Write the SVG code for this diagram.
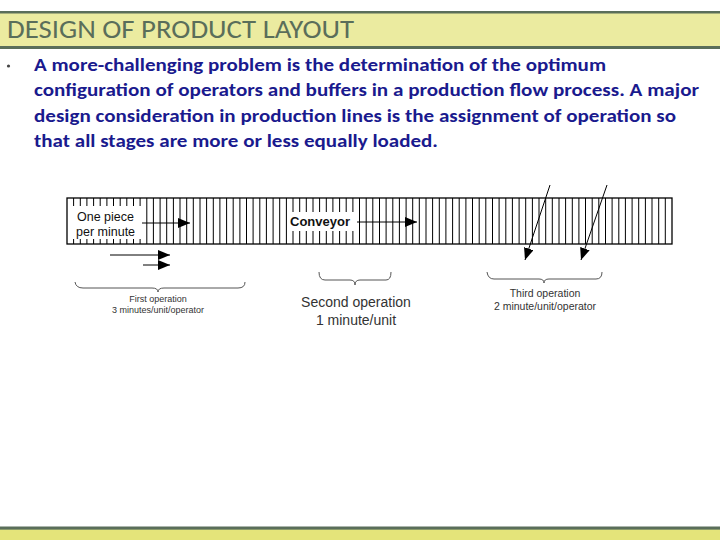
<svg xmlns="http://www.w3.org/2000/svg" width="720" height="540" viewBox="0 0 720 540">
<style>
.title{font-family:Carlito,Lato,"Liberation Sans",sans-serif;font-size:27px;fill:#5a6e5a}
.body{font-family:Carlito,Lato,"Open Sans",sans-serif;font-size:18px;font-weight:bold;fill:#1a1a8e}
.lbl{font-family:"Liberation Sans",Arial,sans-serif;fill:#111}
.cap{font-family:"Liberation Sans",Arial,sans-serif;fill:#333;text-anchor:middle}
.ln{stroke:#000;stroke-width:1;fill:none}
.brace{stroke:#555;stroke-width:1;fill:none}
</style>
<defs>
<marker id="ah" viewBox="0 0 12 10" refX="12" refY="5" markerWidth="12" markerHeight="10" markerUnits="userSpaceOnUse" orient="auto">
<path d="M0 0L12 5L0 10z" fill="#000"/>
</marker>
</defs>
<rect width="720" height="540" fill="#fff"/>
<g id="title-bar">
<rect x="0" y="11" width="720" height="38" fill="#5a6e5a"/>
<rect x="0" y="13.5" width="720" height="32.5" fill="#ebeba0"/>
<text class="title" x="7" y="38" textLength="347" lengthAdjust="spacingAndGlyphs">DESIGN OF PRODUCT LAYOUT</text>
</g>
<g id="body-text">
<circle cx="8.5" cy="66" r="1.6" fill="#444"/>
<text class="body" x="34" y="71" textLength="572" lengthAdjust="spacingAndGlyphs">A more-challenging problem is the determination of the optimum</text>
<text class="body" x="34" y="96" textLength="665" lengthAdjust="spacingAndGlyphs">configuration of operators and buffers in a production flow process. A major</text>
<text class="body" x="34" y="121.5" textLength="642" lengthAdjust="spacingAndGlyphs">design consideration in production lines is the assignment of operation so</text>
<text class="body" x="34" y="147" textLength="404" lengthAdjust="spacingAndGlyphs">that all stages are more or less equally loaded.</text>
</g>
<g id="conveyor">
<path class="ln" d="M73.6 198V244M80.3 198V244M86.9 198V244M93.6 198V244M100.2 198V244M106.9 198V244M113.5 198V244M120.2 198V244M126.8 198V244M133.5 198V244M140.1 198V244M146.8 198V244M153.4 198V244M160.1 198V244M166.7 198V244M173.4 198V244M180 198V244M186.7 198V244M193.3 198V244M200 198V244M206.6 198V244M213.3 198V244M219.9 198V244M226.6 198V244M233.2 198V244M239.9 198V244M246.5 198V244M253.1 198V244M259.8 198V244M266.4 198V244M273.1 198V244M279.7 198V244M286.4 198V244M293 198V244M299.7 198V244M306.3 198V244M313 198V244M319.6 198V244M326.3 198V244M332.9 198V244M339.6 198V244M346.2 198V244M352.9 198V244M359.5 198V244M366.2 198V244M372.8 198V244M379.5 198V244M386.1 198V244M392.8 198V244M399.4 198V244M406.1 198V244M412.7 198V244M419.3 198V244M426 198V244M432.6 198V244M439.3 198V244M445.9 198V244M452.6 198V244M459.2 198V244M465.9 198V244M472.5 198V244M479.2 198V244M485.8 198V244M492.5 198V244M499.1 198V244M505.8 198V244M512.4 198V244M519.1 198V244M525.7 198V244M532.4 198V244M539 198V244M545.7 198V244M552.3 198V244M559 198V244M565.6 198V244M572.3 198V244M578.9 198V244M585.5 198V244M592.2 198V244M598.8 198V244M605.5 198V244M612.1 198V244M618.8 198V244M625.4 198V244M632.1 198V244M638.7 198V244M645.4 198V244M652 198V244M658.7 198V244M665.3 198V244"/>
<rect x="68" y="206" width="74" height="33" fill="#fff"/>
<rect x="288" y="212" width="69" height="19" fill="#fff"/>
<rect x="67" y="198" width="605" height="46" fill="none" stroke="#000" stroke-width="1.3"/>
</g>
<g id="label-one-piece">
<text class="lbl" x="77" y="220.5" font-size="12.5">One piece</text>
<text class="lbl" x="76" y="235.5" font-size="12.5">per minute</text>
</g>
<g id="label-conveyor">
<text class="lbl" x="290" y="226" font-size="13" font-weight="bold">Conveyor</text>
</g>
<g id="first-operation">
<path class="brace" d="M75 282Q76 288 83 288L152 288Q158 288 158 292Q158 288 164 288L238 288Q245 288 245 282"/>
<text class="cap" x="158" y="302" font-size="9">First operation</text>
<text class="cap" x="158" y="312.5" font-size="9">3 minutes/unit/operator</text>
</g>
<g id="second-operation">
<path class="brace" d="M319 272Q319 280 325 280L350 280Q355 280 355 285Q355 280 360 280L386 280Q391 280 391 272"/>
<text class="cap" x="356" y="307" font-size="14">Second operation</text>
<text class="cap" x="356" y="325" font-size="14">1 minute/unit</text>
</g>
<g id="third-operation">
<path class="brace" d="M487 272Q488 279 494 279L539 279Q544 279 544 283Q544 279 549 279L596 279Q602 279 602 272"/>
<text class="cap" x="545" y="297" font-size="10.5">Third operation</text>
<text class="cap" x="545" y="309.5" font-size="10.5">2 minute/unit/operator</text>
</g>
<g id="connectors">
<path class="ln" d="M142 223H190" marker-end="url(#ah)"/>
<path class="ln" d="M357 222H417" marker-end="url(#ah)"/>
<path class="ln" d="M110 255H170" marker-end="url(#ah)"/>
<path class="ln" d="M143 265H170" marker-end="url(#ah)"/>
<path class="ln" d="M550 185L525 260" marker-end="url(#ah)"/>
<path class="ln" d="M607 185L581 260" marker-end="url(#ah)"/>
</g>
<g id="footer-bar">
<rect x="0" y="526.5" width="720" height="13.5" fill="#5a6e5a"/>
<rect x="0" y="529" width="720" height="1.2" fill="#8a9a6a"/>
<rect x="0" y="530" width="720" height="10" fill="#e4e47a"/>
</g>
</svg>
